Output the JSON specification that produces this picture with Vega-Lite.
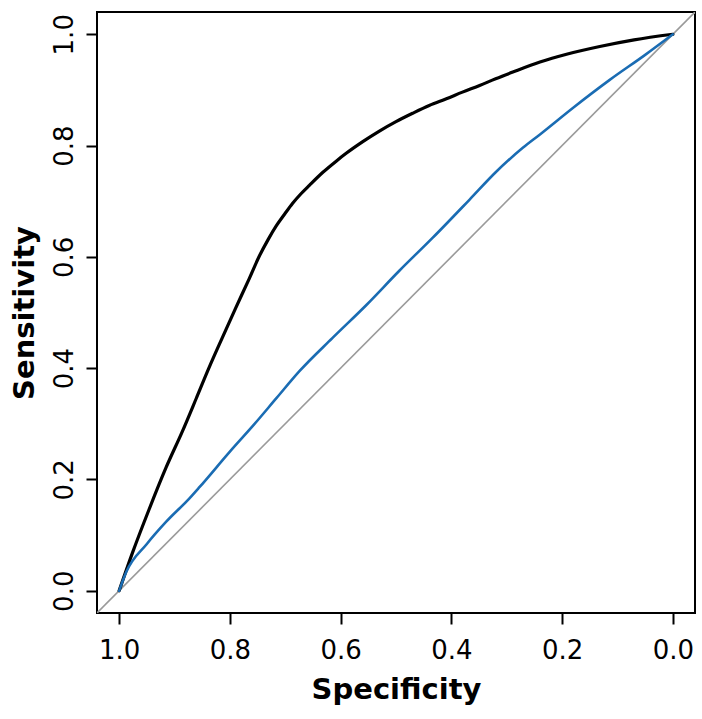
{
  "$schema": "https://vega.github.io/schema/vega-lite/v6.json",
  "width": 598,
  "height": 601,
  "autosize": "none",
  "padding": {"left": 97, "top": 12, "right": 7, "bottom": 106},
  "background": "white",
  "config": {
    "view": {"stroke": "#000000", "strokeWidth": 2},
    "axis": {
      "labelFont": "DejaVu Sans", "labelFontSize": 26, "labelColor": "#000000",
      "titleFont": "DejaVu Sans", "titleFontSize": 29, "titleFontWeight": "bold", "titleColor": "#000000",
      "domain": false, "grid": false, "ticks": true, "tickColor": "#000000", "tickWidth": 2, "tickSize": 11
    }
  },
  "datasets": {
    "roc": [
      {"series": "model", "spec": 1.0, "sens": 0.0},
      {"series": "model", "spec": 0.976, "sens": 0.068},
      {"series": "model", "spec": 0.946, "sens": 0.146},
      {"series": "model", "spec": 0.915, "sens": 0.222},
      {"series": "model", "spec": 0.886, "sens": 0.286},
      {"series": "model", "spec": 0.861, "sens": 0.345},
      {"series": "model", "spec": 0.838, "sens": 0.4},
      {"series": "model", "spec": 0.814, "sens": 0.454},
      {"series": "model", "spec": 0.79, "sens": 0.507},
      {"series": "model", "spec": 0.765, "sens": 0.561},
      {"series": "model", "spec": 0.747, "sens": 0.601},
      {"series": "model", "spec": 0.731, "sens": 0.631},
      {"series": "model", "spec": 0.716, "sens": 0.656},
      {"series": "model", "spec": 0.701, "sens": 0.677},
      {"series": "model", "spec": 0.687, "sens": 0.696},
      {"series": "model", "spec": 0.672, "sens": 0.713},
      {"series": "model", "spec": 0.656, "sens": 0.729},
      {"series": "model", "spec": 0.632, "sens": 0.752},
      {"series": "model", "spec": 0.608, "sens": 0.772},
      {"series": "model", "spec": 0.59, "sens": 0.786},
      {"series": "model", "spec": 0.56, "sens": 0.807},
      {"series": "model", "spec": 0.53, "sens": 0.826},
      {"series": "model", "spec": 0.5, "sens": 0.843},
      {"series": "model", "spec": 0.47, "sens": 0.858},
      {"series": "model", "spec": 0.44, "sens": 0.872},
      {"series": "model", "spec": 0.409, "sens": 0.884},
      {"series": "model", "spec": 0.38, "sens": 0.896},
      {"series": "model", "spec": 0.349, "sens": 0.908},
      {"series": "model", "spec": 0.32, "sens": 0.92},
      {"series": "model", "spec": 0.289, "sens": 0.932},
      {"series": "model", "spec": 0.24, "sens": 0.95},
      {"series": "model", "spec": 0.192, "sens": 0.964},
      {"series": "model", "spec": 0.132, "sens": 0.978},
      {"series": "model", "spec": 0.07, "sens": 0.99},
      {"series": "model", "spec": 0.0, "sens": 1.0},
      {"series": "baseline", "spec": 1.0, "sens": 0.0},
      {"series": "baseline", "spec": 0.987, "sens": 0.034},
      {"series": "baseline", "spec": 0.95, "sens": 0.084},
      {"series": "baseline", "spec": 0.915, "sens": 0.124},
      {"series": "baseline", "spec": 0.873, "sens": 0.166},
      {"series": "baseline", "spec": 0.855, "sens": 0.186},
      {"series": "baseline", "spec": 0.8, "sens": 0.25},
      {"series": "baseline", "spec": 0.757, "sens": 0.298},
      {"series": "baseline", "spec": 0.716, "sens": 0.346},
      {"series": "baseline", "spec": 0.674, "sens": 0.395},
      {"series": "baseline", "spec": 0.615, "sens": 0.454},
      {"series": "baseline", "spec": 0.553, "sens": 0.514},
      {"series": "baseline", "spec": 0.494, "sens": 0.575},
      {"series": "baseline", "spec": 0.434, "sens": 0.634},
      {"series": "baseline", "spec": 0.367, "sens": 0.703},
      {"series": "baseline", "spec": 0.32, "sens": 0.752},
      {"series": "baseline", "spec": 0.271, "sens": 0.796},
      {"series": "baseline", "spec": 0.24, "sens": 0.82},
      {"series": "baseline", "spec": 0.18, "sens": 0.868},
      {"series": "baseline", "spec": 0.114, "sens": 0.918},
      {"series": "baseline", "spec": 0.05, "sens": 0.963},
      {"series": "baseline", "spec": 0.0, "sens": 1.0}
    ],
    "diag": [
      {"spec": 1.04, "sens": -0.04},
      {"spec": -0.04, "sens": 1.04}
    ]
  },
  "layer": [
    {
      "data": {"name": "diag"},
      "mark": {"type": "line", "color": "#9a9a9a", "strokeWidth": 1.6, "clip": true},
      "encoding": {
        "x": {"field": "spec", "type": "quantitative", "scale": {"domain": [-0.04, 1.04], "reverse": true, "nice": false, "zero": false},
              "axis": {"values": [0, 0.2, 0.4, 0.6, 0.8, 1.0], "format": ".1f", "title": "Specificity", "labelPadding": 13, "titlePadding": 12}},
        "y": {"field": "sens", "type": "quantitative", "scale": {"domain": [-0.04, 1.04], "nice": false, "zero": false},
              "axis": {"values": [0, 0.2, 0.4, 0.6, 0.8, 1.0], "format": ".1f", "title": "Sensitivity", "labelAngle": -90, "labelAlign": "center", "labelBaseline": "bottom", "labelPadding": 9, "titlePadding": 12}}
      }
    },
    {
      "data": {"name": "roc"},
      "mark": {"type": "line", "clip": true, "interpolate": "monotone", "strokeJoin": "round", "strokeCap": "round"},
      "encoding": {
        "x": {"field": "spec", "type": "quantitative"},
        "y": {"field": "sens", "type": "quantitative"},
        "color": {"field": "series", "type": "nominal", "scale": {"domain": ["model", "baseline"], "range": ["#000000", "#1a6cb3"]}, "legend": null},
        "strokeWidth": {"field": "series", "type": "nominal", "scale": {"domain": ["model", "baseline"], "range": [3.2, 2.6]}, "legend": null}
      }
    }
  ]
}
